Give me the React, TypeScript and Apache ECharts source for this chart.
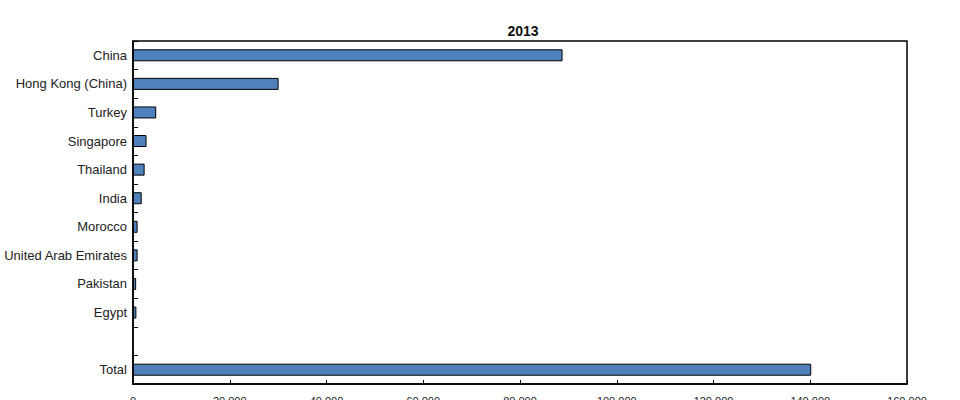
import React, { useEffect, useRef } from "react";
import * as echarts from "echarts";

const categories = [
  "China",
  "Hong Kong (China)",
  "Turkey",
  "Singapore",
  "Thailand",
  "India",
  "Morocco",
  "United Arab Emirates",
  "Pakistan",
  "Egypt",
  "",
  "Total",
];
const values: (number | null)[] = [
  88800, 30100, 4800, 2800, 2400, 1800, 950, 950, 650, 700, null, 140200,
];
const title = "2013";
const xTicks = { min: 0, max: 160000, interval: 20000 };

export default function App() {
  const ref = useRef<HTMLDivElement>(null);
  useEffect(() => {
    if (!ref.current) return;
    const chart = echarts.init(ref.current, undefined, { renderer: "svg" });
    const font = "'Liberation Sans', Arial, sans-serif";
    chart.setOption({
      animation: false,
      backgroundColor: "#ffffff",
      title: {
        text: title,
        left: 518,
        textAlign: "center",
        top: 19,
        textStyle: { fontFamily: font, fontSize: 14, fontWeight: "bold", color: "#111" },
      },
      grid: {
        left: 133,
        top: 41,
        width: 774,
        height: 343,
        show: true,
        borderColor: "#000",
        borderWidth: 1.5,
        backgroundColor: "transparent",
      },
      xAxis: {
        type: "value",
        min: xTicks.min,
        max: xTicks.max,
        interval: xTicks.interval,
        axisLine: { show: true, lineStyle: { color: "#000", width: 1.5 } },
        axisTick: { show: true, inside: true, length: 4, lineStyle: { color: "#000" } },
        splitLine: { show: false },
        axisLabel: {
          margin: 11,
          fontFamily: font,
          fontSize: 11,
          color: "#222",
          formatter: (v: number) => v.toLocaleString("en-US"),
        },
      },
      yAxis: {
        type: "category",
        inverse: true,
        data: categories,
        axisLine: { show: true, lineStyle: { color: "#000", width: 1.5 } },
        axisTick: { show: true, inside: true, length: 5, alignWithLabel: false, lineStyle: { color: "#000" } },
        axisLabel: { margin: 6, fontFamily: font, fontSize: 13, color: "#222" },
        splitLine: { show: false },
      },
      series: [
        {
          type: "bar",
          data: values,
          barWidth: 12,
          itemStyle: { color: "#4F81BD", borderColor: "#000", borderWidth: 1 },
        },
      ],
    });
    return () => chart.dispose();
  }, []);
  return (
    <div style={{ position: "absolute", left: 0, top: 0, width: 960, height: 400, overflow: "hidden" }}>
      <div ref={ref} style={{ width: 960, height: 420 }} />
    </div>
  );
}
